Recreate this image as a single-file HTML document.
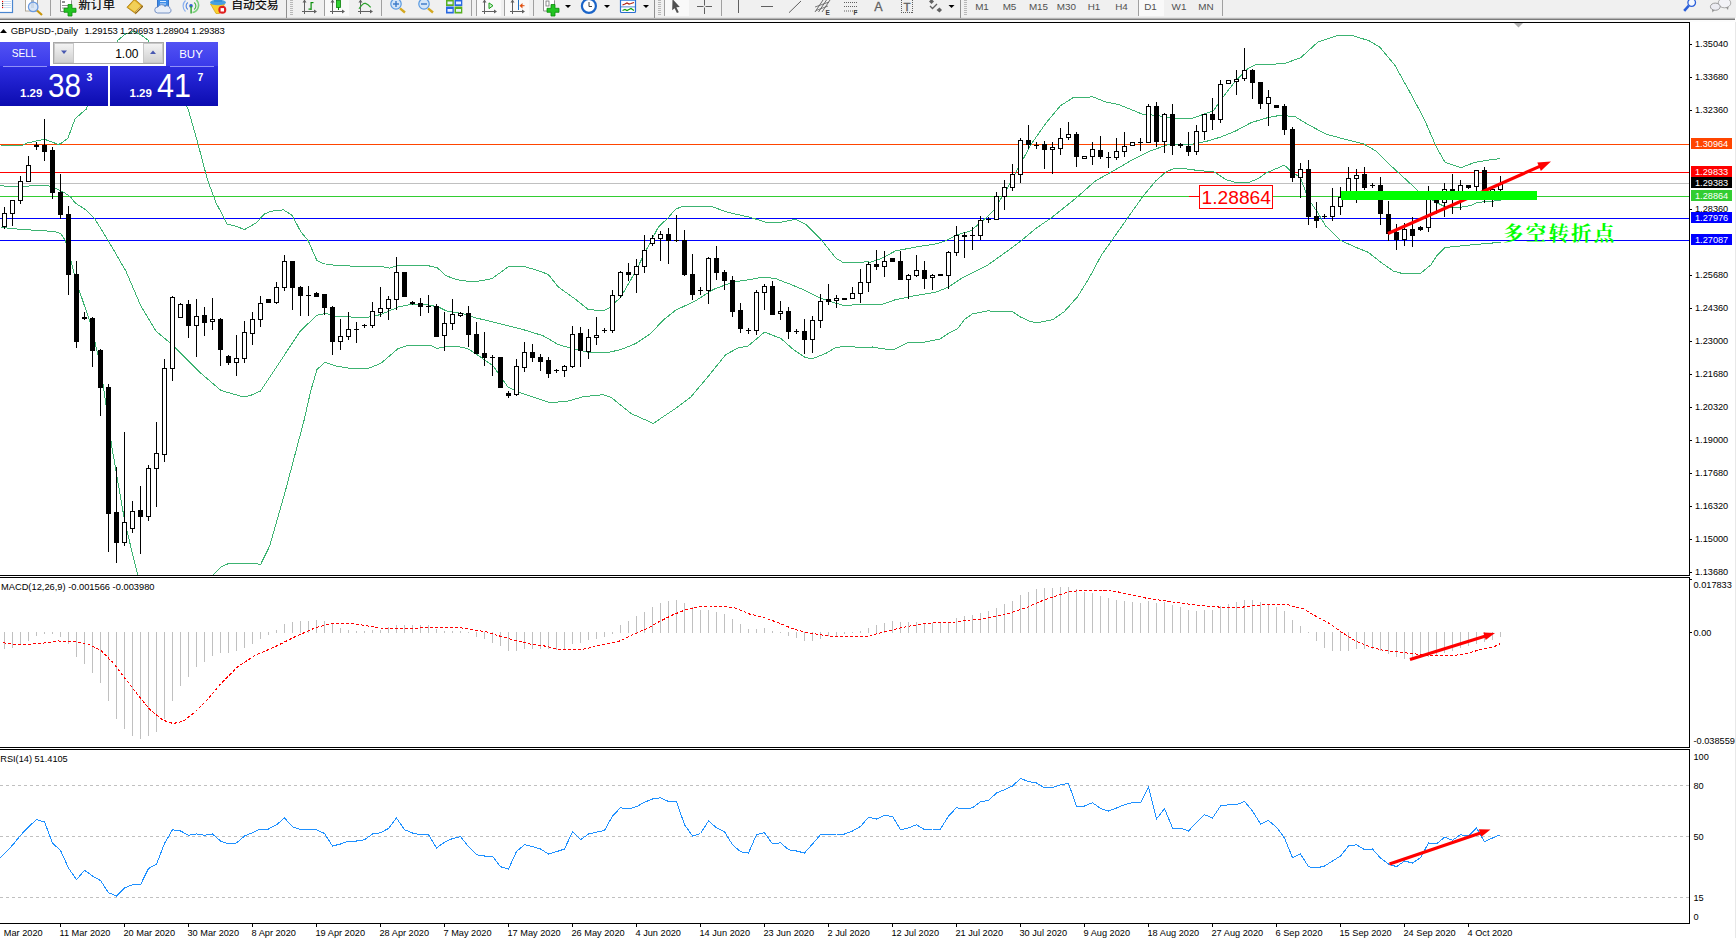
<!DOCTYPE html>
<html><head><meta charset="utf-8"><title>GBPUSD Daily</title>
<style>
html,body{margin:0;padding:0;background:#fff;}
body{width:1736px;height:938px;overflow:hidden;position:relative;}
svg{position:absolute;left:0;top:0;font-family:'Liberation Sans','Noto Sans CJK SC',sans-serif;}
text{white-space:pre;}
</style></head><body>
<svg width="1736" height="938" viewBox="0 0 1736 938">
<defs>
<clipPath id="cpMain"><rect x="0" y="23" width="1689" height="552"/></clipPath>
<linearGradient id="gBtn" x1="0" y1="0" x2="0" y2="1"><stop offset="0" stop-color="#5252F4"/><stop offset="1" stop-color="#3A3AEA"/></linearGradient>
<linearGradient id="gPrice" x1="0" y1="0" x2="0" y2="1"><stop offset="0" stop-color="#2C2CE0"/><stop offset="1" stop-color="#0C0CB0"/></linearGradient>
<linearGradient id="gSpin" x1="0" y1="0" x2="0" y2="1"><stop offset="0" stop-color="#F4F4F4"/><stop offset="1" stop-color="#D0D0D0"/></linearGradient>
<linearGradient id="gTbLine" x1="0" y1="0" x2="0" y2="1"><stop offset="0" stop-color="#D8D8D8"/><stop offset="1" stop-color="#707070"/></linearGradient>
</defs>
<rect x="0" y="0" width="1736" height="938" fill="#fff"/>
<rect x="1735" y="20" width="1" height="918" fill="#E8E8E8"/>
<rect x="0" y="22" width="1690" height="1" fill="#000" />
<rect x="1689" y="22" width="1" height="554" fill="#000" />
<rect x="1689" y="577" width="1" height="171" fill="#000" />
<rect x="1689" y="749" width="1" height="175" fill="#000" />
<rect x="0" y="575" width="1690" height="1" fill="#000" />
<rect x="0" y="577" width="1690" height="1" fill="#000" />
<rect x="0" y="747" width="1690" height="1" fill="#000" />
<rect x="0" y="749" width="1690" height="1" fill="#000" />
<rect x="0" y="923" width="1690" height="1" fill="#000" />
<g shape-rendering="crispEdges">
<rect x="0" y="144" width="1689" height="1" fill="#FF4500" />
<rect x="0" y="172" width="1689" height="1" fill="#FF0000" />
<rect x="0" y="183" width="1689" height="1" fill="#C0C0C0" />
<rect x="0" y="196" width="1689" height="1" fill="#32CD32" />
<rect x="0" y="218" width="1689" height="1" fill="#0000FF" />
<rect x="0" y="240" width="1689" height="1" fill="#0000FF" />
<g clip-path="url(#cpMain)">
<polyline points="0.5,145.5 22.5,145.5 26.5,143.1 44.5,139.3 58.1,144.3 60.5,143.8 67.9,138.2 75.2,118.5 86.2,109.2 100.5,76.5 118.1,40.1 125.5,34.0 134.0,31.5 141.5,35.2 148.0,40.1 165.5,68.5 188.0,108.8 197.8,143.1 207.5,179.9 216.2,203.1 227.2,224.0 237.0,226.5 244.4,229.6 256.5,222.8 264.0,214.2 271.3,211.2 283.5,209.8 292.2,215.4 300.5,231.3 308.1,240.5 316.9,260.5 323.2,263.7 338.2,265.7 383.3,266.9 389.5,268.2 398.4,265.2 425.9,265.2 437.2,267.7 446.0,275.7 456.0,279.5 467.5,281.2 478.1,281.2 491.9,278.7 508.1,266.9 525.7,266.9 538.2,270.7 548.2,274.4 558.3,287.0 575.8,299.5 588.3,309.5 603.4,310.8 609.6,307.8 620.9,297.0 636.0,270.7 646.0,250.5 658.5,226.8 667.5,218.5 675.5,209.3 683.1,206.0 710.7,206.0 725.7,211.8 750.8,217.5 765.8,222.3 780.8,222.3 795.9,219.3 805.9,224.3 820.9,239.4 836.0,258.2 843.5,262.7 867.5,261.9 870.5,262.2 880.5,258.9 895.5,250.9 915.7,247.1 935.7,243.9 945.7,240.9 955.8,235.3 970.8,230.8 983.3,220.3 993.4,210.8 1005.9,190.7 1020.9,163.2 1031.0,144.4 1046.0,123.1 1060.5,105.7 1073.1,97.7 1093.1,96.9 1105.6,101.9 1118.2,104.4 1130.7,109.4 1143.2,114.5 1155.8,115.2 1175.8,118.7 1190.9,118.7 1200.9,115.2 1213.4,110.7 1225.9,93.2 1236.0,80.6 1248.5,68.1 1256.0,64.5 1283.8,63.8 1300.8,57.6 1317.8,42.2 1336.3,36.0 1351.7,35.4 1368.7,40.6 1379.5,46.8 1394.9,65.3 1410.4,93.1 1424.3,119.3 1436.5,147.4 1445.0,162.3 1461.0,167.7 1474.9,162.3 1487.7,160.2 1500.5,158.5" fill="none" stroke="#3CB371" stroke-width="1" />
<polyline points="0.5,185.5 10.5,187.0 32.5,185.8 48.5,185.8 55.9,188.5 64.5,192.7 70.5,197.0 75.5,203.2 85.0,209.3 94.5,218.3 108.3,240.8 125.8,270.9 140.9,306.0 155.9,331.1 170.8,343.5 200.9,373.2 220.9,390.5 243.5,397.0 250.5,395.5 260.5,391.0 275.5,368.5 300.5,330.8 316.9,315.3 325.7,313.3 335.7,316.3 350.8,317.0 365.8,317.8 380.8,314.5 398.4,307.0 410.9,304.5 425.9,304.5 438.5,307.0 446.0,310.8 463.0,313.8 475.5,317.8 500.5,323.8 525.7,330.3 543.2,335.8 558.3,344.6 573.3,348.9 590.9,352.9 605.9,352.9 620.9,349.6 636.0,343.4 651.0,333.3 663.0,320.3 675.5,310.3 695.5,300.8 713.2,289.5 733.2,282.0 750.8,279.5 763.3,277.0 775.8,278.7 790.9,284.5 805.9,290.8 820.9,298.3 836.0,303.3 843.5,305.3 867.5,304.5 880.5,304.8 895.5,299.7 915.7,295.5 935.7,292.2 948.2,287.2 963.3,277.2 988.3,264.7 1005.9,252.1 1020.9,240.9 1036.0,228.3 1050.5,218.5 1075.5,198.5 1095.5,180.9 1113.2,170.9 1130.7,160.8 1150.8,150.8 1168.3,144.5 1190.9,144.5 1205.9,141.5 1220.9,137.0 1236.0,130.8 1251.0,122.7 1265.5,118.2 1280.5,115.2 1295.5,116.9 1308.1,124.5 1325.7,134.0 1345.7,139.5 1363.3,143.8 1375.8,150.8 1390.9,165.8 1405.9,179.5 1420.9,193.5 1437.3,202.9 1445.4,207.0 1460.4,207.2 1470.7,205.5 1476.5,202.9 1485.7,201.5 1500.7,200.6" fill="none" stroke="#3CB371" stroke-width="1" />
<polyline points="0.5,227.0 10.5,228.5 30.5,230.0 54.5,231.5 60.5,233.5 65.5,240.5 76.9,283.5 90.5,323.5 100.5,365.5 111.5,444.8 124.9,522.5 137.8,575.5" fill="none" stroke="#3CB371" stroke-width="1" />
<polyline points="212.8,575.5 221.1,566.9 227.8,563.9 257.1,563.9 260.5,564.7 269.7,546.0 285.5,490.5 304.0,420.5 310.7,391.0 316.9,369.7 324.9,362.2 335.7,365.9 353.3,368.9 368.3,368.4 380.8,363.4 398.4,348.4 408.4,345.4 429.7,345.1 437.2,348.4 446.0,346.6 463.0,347.1 469.3,349.6 478.1,355.4 493.1,365.9 508.1,387.2 518.2,392.2 533.2,397.2 550.8,402.8 568.3,401.0 583.3,396.7 603.4,394.7 610.9,397.2 631.0,413.5 653.5,423.5 660.5,418.5 675.5,408.5 690.5,397.3 705.5,379.7 725.7,354.7 738.2,347.9 748.2,345.9 764.5,332.1 780.8,338.4 793.4,349.6 805.9,357.9 813.4,358.4 825.9,353.4 835.3,347.8 841.8,346.6 853.1,346.6 857.9,347.8 872.5,347.0 883.7,348.9 893.4,349.9 907.9,342.6 922.5,342.6 940.2,338.9 949.9,332.5 957.9,328.4 964.4,319.5 972.5,313.9 988.5,310.7 995.0,311.8 1012.8,311.8 1020.8,317.1 1028.9,321.1 1037.0,322.8 1053.1,319.5 1064.4,311.5 1077.3,297.0 1088.5,279.2 1101.5,255.0 1113.2,238.5 1128.2,217.2 1143.2,195.9 1155.8,180.9 1165.8,172.1 1173.3,168.8 1185.8,168.8 1200.9,170.9 1213.4,171.4 1225.9,179.6 1236.0,182.6 1248.5,182.6 1258.5,178.4 1265.5,173.3 1284.3,165.1 1290.5,170.8 1300.5,177.8 1308.1,198.4 1318.2,213.4 1325.7,226.0 1340.7,240.5 1355.8,247.3 1368.3,252.3 1380.8,262.3 1393.4,271.1 1400.9,273.1 1420.9,273.1 1431.0,264.8 1436.5,256.2 1445.0,247.6 1464.2,245.5 1500.5,242.3" fill="none" stroke="#3CB371" stroke-width="1" />
</g>
<rect x="4" y="207" width="1" height="22" fill="#000" />
<rect x="2" y="213" width="5" height="14" fill="#000" />
<rect x="3" y="214" width="3" height="12" fill="#fff" />
<rect x="12" y="200" width="1" height="26" fill="#000" />
<rect x="10" y="200" width="5" height="14" fill="#000" />
<rect x="11" y="201" width="3" height="12" fill="#fff" />
<rect x="20" y="176" width="1" height="28" fill="#000" />
<rect x="18" y="181" width="5" height="20" fill="#000" />
<rect x="19" y="182" width="3" height="18" fill="#fff" />
<rect x="28" y="156" width="1" height="26" fill="#000" />
<rect x="26" y="165" width="5" height="17" fill="#000" />
<rect x="27" y="166" width="3" height="15" fill="#fff" />
<rect x="36" y="142" width="1" height="8" fill="#000" />
<rect x="34" y="145" width="5" height="2" fill="#000" />
<rect x="44" y="119" width="1" height="42" fill="#000" />
<rect x="42" y="145" width="5" height="7" fill="#000" />
<rect x="52" y="147" width="1" height="52" fill="#000" />
<rect x="50" y="150" width="5" height="43" fill="#000" />
<rect x="60" y="174" width="1" height="45" fill="#000" />
<rect x="58" y="192" width="5" height="23" fill="#000" />
<rect x="68" y="206" width="1" height="89" fill="#000" />
<rect x="66" y="214" width="5" height="61" fill="#000" />
<rect x="76" y="261" width="1" height="87" fill="#000" />
<rect x="74" y="274" width="5" height="68" fill="#000" />
<rect x="84" y="312" width="1" height="8" fill="#000" />
<rect x="82" y="317" width="5" height="2" fill="#000" />
<rect x="92" y="317" width="1" height="50" fill="#000" />
<rect x="90" y="318" width="5" height="33" fill="#000" />
<rect x="100" y="349" width="1" height="67" fill="#000" />
<rect x="98" y="350" width="5" height="38" fill="#000" />
<rect x="108" y="384" width="1" height="168" fill="#000" />
<rect x="106" y="387" width="5" height="127" fill="#000" />
<rect x="116" y="467" width="1" height="96" fill="#000" />
<rect x="114" y="512" width="5" height="31" fill="#000" />
<rect x="124" y="432" width="1" height="114" fill="#000" />
<rect x="122" y="522" width="5" height="21" fill="#000" />
<rect x="123" y="523" width="3" height="19" fill="#fff" />
<rect x="132" y="501" width="1" height="32" fill="#000" />
<rect x="130" y="511" width="5" height="18" fill="#000" />
<rect x="131" y="512" width="3" height="16" fill="#fff" />
<rect x="140" y="486" width="1" height="68" fill="#000" />
<rect x="138" y="510" width="5" height="7" fill="#000" />
<rect x="148" y="465" width="1" height="56" fill="#000" />
<rect x="146" y="468" width="5" height="49" fill="#000" />
<rect x="147" y="469" width="3" height="47" fill="#fff" />
<rect x="156" y="422" width="1" height="85" fill="#000" />
<rect x="154" y="453" width="5" height="16" fill="#000" />
<rect x="155" y="454" width="3" height="14" fill="#fff" />
<rect x="164" y="359" width="1" height="103" fill="#000" />
<rect x="162" y="368" width="5" height="87" fill="#000" />
<rect x="163" y="369" width="3" height="85" fill="#fff" />
<rect x="172" y="296" width="1" height="85" fill="#000" />
<rect x="170" y="297" width="5" height="72" fill="#000" />
<rect x="171" y="298" width="3" height="70" fill="#fff" />
<rect x="180" y="303" width="1" height="15" fill="#000" />
<rect x="178" y="304" width="5" height="14" fill="#000" />
<rect x="179" y="305" width="3" height="12" fill="#fff" />
<rect x="188" y="300" width="1" height="38" fill="#000" />
<rect x="186" y="304" width="5" height="22" fill="#000" />
<rect x="196" y="299" width="1" height="58" fill="#000" />
<rect x="194" y="316" width="5" height="10" fill="#000" />
<rect x="195" y="317" width="3" height="8" fill="#fff" />
<rect x="204" y="307" width="1" height="29" fill="#000" />
<rect x="202" y="315" width="5" height="8" fill="#000" />
<rect x="212" y="298" width="1" height="32" fill="#000" />
<rect x="210" y="319" width="5" height="3" fill="#000" />
<rect x="211" y="320" width="3" height="1" fill="#fff" />
<rect x="220" y="318" width="1" height="48" fill="#000" />
<rect x="218" y="319" width="5" height="31" fill="#000" />
<rect x="228" y="355" width="1" height="10" fill="#000" />
<rect x="226" y="356" width="5" height="7" fill="#000" />
<rect x="236" y="335" width="1" height="41" fill="#000" />
<rect x="234" y="358" width="5" height="5" fill="#000" />
<rect x="235" y="359" width="3" height="3" fill="#fff" />
<rect x="244" y="321" width="1" height="42" fill="#000" />
<rect x="242" y="332" width="5" height="27" fill="#000" />
<rect x="243" y="333" width="3" height="25" fill="#fff" />
<rect x="252" y="312" width="1" height="33" fill="#000" />
<rect x="250" y="319" width="5" height="15" fill="#000" />
<rect x="251" y="320" width="3" height="13" fill="#fff" />
<rect x="260" y="296" width="1" height="31" fill="#000" />
<rect x="258" y="303" width="5" height="17" fill="#000" />
<rect x="259" y="304" width="3" height="15" fill="#fff" />
<rect x="268" y="299" width="1" height="4" fill="#000" />
<rect x="266" y="299" width="5" height="4" fill="#000" />
<rect x="276" y="282" width="1" height="22" fill="#000" />
<rect x="274" y="287" width="5" height="16" fill="#000" />
<rect x="275" y="288" width="3" height="14" fill="#fff" />
<rect x="284" y="255" width="1" height="36" fill="#000" />
<rect x="282" y="261" width="5" height="27" fill="#000" />
<rect x="283" y="262" width="3" height="25" fill="#fff" />
<rect x="292" y="261" width="1" height="49" fill="#000" />
<rect x="290" y="261" width="5" height="27" fill="#000" />
<rect x="300" y="286" width="1" height="30" fill="#000" />
<rect x="298" y="287" width="5" height="9" fill="#000" />
<rect x="308" y="286" width="1" height="30" fill="#000" />
<rect x="306" y="295" width="5" height="1" fill="#000" />
<rect x="316" y="292" width="1" height="5" fill="#000" />
<rect x="314" y="293" width="5" height="4" fill="#000" />
<rect x="324" y="294" width="1" height="21" fill="#000" />
<rect x="322" y="294" width="5" height="14" fill="#000" />
<rect x="332" y="306" width="1" height="49" fill="#000" />
<rect x="330" y="307" width="5" height="35" fill="#000" />
<rect x="340" y="319" width="1" height="31" fill="#000" />
<rect x="338" y="336" width="5" height="6" fill="#000" />
<rect x="339" y="337" width="3" height="4" fill="#fff" />
<rect x="348" y="312" width="1" height="28" fill="#000" />
<rect x="346" y="329" width="5" height="8" fill="#000" />
<rect x="347" y="330" width="3" height="6" fill="#fff" />
<rect x="356" y="322" width="1" height="21" fill="#000" />
<rect x="354" y="329" width="5" height="1" fill="#000" />
<rect x="364" y="324" width="1" height="4" fill="#000" />
<rect x="362" y="325" width="5" height="1" fill="#000" />
<rect x="372" y="302" width="1" height="26" fill="#000" />
<rect x="370" y="311" width="5" height="15" fill="#000" />
<rect x="371" y="312" width="3" height="13" fill="#fff" />
<rect x="380" y="287" width="1" height="30" fill="#000" />
<rect x="378" y="308" width="5" height="5" fill="#000" />
<rect x="379" y="309" width="3" height="3" fill="#fff" />
<rect x="388" y="296" width="1" height="24" fill="#000" />
<rect x="386" y="299" width="5" height="10" fill="#000" />
<rect x="387" y="300" width="3" height="8" fill="#fff" />
<rect x="396" y="257" width="1" height="53" fill="#000" />
<rect x="394" y="272" width="5" height="28" fill="#000" />
<rect x="395" y="273" width="3" height="26" fill="#fff" />
<rect x="404" y="272" width="1" height="25" fill="#000" />
<rect x="402" y="272" width="5" height="25" fill="#000" />
<rect x="412" y="301" width="1" height="4" fill="#000" />
<rect x="410" y="302" width="5" height="2" fill="#000" />
<rect x="420" y="298" width="1" height="18" fill="#000" />
<rect x="418" y="303" width="5" height="4" fill="#000" />
<rect x="428" y="295" width="1" height="18" fill="#000" />
<rect x="426" y="306" width="5" height="1" fill="#000" />
<rect x="436" y="304" width="1" height="33" fill="#000" />
<rect x="434" y="306" width="5" height="31" fill="#000" />
<rect x="444" y="312" width="1" height="39" fill="#000" />
<rect x="442" y="323" width="5" height="13" fill="#000" />
<rect x="443" y="324" width="3" height="11" fill="#fff" />
<rect x="452" y="299" width="1" height="31" fill="#000" />
<rect x="450" y="314" width="5" height="10" fill="#000" />
<rect x="451" y="315" width="3" height="8" fill="#fff" />
<rect x="460" y="312" width="1" height="5" fill="#000" />
<rect x="458" y="313" width="5" height="3" fill="#000" />
<rect x="459" y="314" width="3" height="1" fill="#fff" />
<rect x="468" y="306" width="1" height="41" fill="#000" />
<rect x="466" y="313" width="5" height="22" fill="#000" />
<rect x="476" y="322" width="1" height="32" fill="#000" />
<rect x="474" y="334" width="5" height="20" fill="#000" />
<rect x="484" y="332" width="1" height="34" fill="#000" />
<rect x="482" y="353" width="5" height="5" fill="#000" />
<rect x="492" y="355" width="1" height="21" fill="#000" />
<rect x="490" y="357" width="5" height="1" fill="#000" />
<rect x="500" y="357" width="1" height="31" fill="#000" />
<rect x="498" y="357" width="5" height="31" fill="#000" />
<rect x="508" y="391" width="1" height="7" fill="#000" />
<rect x="506" y="393" width="5" height="3" fill="#000" />
<rect x="516" y="359" width="1" height="37" fill="#000" />
<rect x="514" y="366" width="5" height="29" fill="#000" />
<rect x="515" y="367" width="3" height="27" fill="#fff" />
<rect x="524" y="342" width="1" height="30" fill="#000" />
<rect x="522" y="352" width="5" height="16" fill="#000" />
<rect x="523" y="353" width="3" height="14" fill="#fff" />
<rect x="532" y="344" width="1" height="18" fill="#000" />
<rect x="530" y="352" width="5" height="6" fill="#000" />
<rect x="540" y="354" width="1" height="17" fill="#000" />
<rect x="538" y="357" width="5" height="5" fill="#000" />
<rect x="548" y="357" width="1" height="21" fill="#000" />
<rect x="546" y="360" width="5" height="14" fill="#000" />
<rect x="556" y="369" width="1" height="4" fill="#000" />
<rect x="554" y="370" width="5" height="1" fill="#000" />
<rect x="564" y="365" width="1" height="12" fill="#000" />
<rect x="562" y="366" width="5" height="5" fill="#000" />
<rect x="563" y="367" width="3" height="3" fill="#fff" />
<rect x="572" y="326" width="1" height="42" fill="#000" />
<rect x="570" y="334" width="5" height="33" fill="#000" />
<rect x="571" y="335" width="3" height="31" fill="#fff" />
<rect x="580" y="327" width="1" height="40" fill="#000" />
<rect x="578" y="333" width="5" height="18" fill="#000" />
<rect x="588" y="329" width="1" height="30" fill="#000" />
<rect x="586" y="337" width="5" height="15" fill="#000" />
<rect x="587" y="338" width="3" height="13" fill="#fff" />
<rect x="596" y="317" width="1" height="28" fill="#000" />
<rect x="594" y="335" width="5" height="3" fill="#000" />
<rect x="595" y="336" width="3" height="1" fill="#fff" />
<rect x="604" y="328" width="1" height="5" fill="#000" />
<rect x="602" y="330" width="5" height="1" fill="#000" />
<rect x="612" y="290" width="1" height="43" fill="#000" />
<rect x="610" y="295" width="5" height="36" fill="#000" />
<rect x="611" y="296" width="3" height="34" fill="#fff" />
<rect x="620" y="271" width="1" height="27" fill="#000" />
<rect x="618" y="272" width="5" height="24" fill="#000" />
<rect x="619" y="273" width="3" height="22" fill="#fff" />
<rect x="628" y="263" width="1" height="18" fill="#000" />
<rect x="626" y="272" width="5" height="3" fill="#000" />
<rect x="636" y="259" width="1" height="34" fill="#000" />
<rect x="634" y="266" width="5" height="9" fill="#000" />
<rect x="635" y="267" width="3" height="7" fill="#fff" />
<rect x="644" y="235" width="1" height="38" fill="#000" />
<rect x="642" y="250" width="5" height="17" fill="#000" />
<rect x="643" y="251" width="3" height="15" fill="#fff" />
<rect x="652" y="235" width="1" height="11" fill="#000" />
<rect x="650" y="238" width="5" height="6" fill="#000" />
<rect x="651" y="239" width="3" height="4" fill="#fff" />
<rect x="660" y="231" width="1" height="30" fill="#000" />
<rect x="658" y="234" width="5" height="5" fill="#000" />
<rect x="659" y="235" width="3" height="3" fill="#fff" />
<rect x="668" y="228" width="1" height="36" fill="#000" />
<rect x="666" y="234" width="5" height="7" fill="#000" />
<rect x="676" y="215" width="1" height="27" fill="#000" />
<rect x="674" y="240" width="5" height="1" fill="#000" />
<rect x="684" y="230" width="1" height="46" fill="#000" />
<rect x="682" y="240" width="5" height="35" fill="#000" />
<rect x="692" y="254" width="1" height="46" fill="#000" />
<rect x="690" y="274" width="5" height="21" fill="#000" />
<rect x="700" y="287" width="1" height="8" fill="#000" />
<rect x="698" y="290" width="5" height="1" fill="#000" />
<rect x="708" y="257" width="1" height="47" fill="#000" />
<rect x="706" y="258" width="5" height="33" fill="#000" />
<rect x="707" y="259" width="3" height="31" fill="#fff" />
<rect x="716" y="246" width="1" height="34" fill="#000" />
<rect x="714" y="258" width="5" height="15" fill="#000" />
<rect x="724" y="270" width="1" height="20" fill="#000" />
<rect x="722" y="272" width="5" height="9" fill="#000" />
<rect x="732" y="276" width="1" height="41" fill="#000" />
<rect x="730" y="280" width="5" height="32" fill="#000" />
<rect x="740" y="303" width="1" height="30" fill="#000" />
<rect x="738" y="310" width="5" height="19" fill="#000" />
<rect x="748" y="328" width="1" height="6" fill="#000" />
<rect x="746" y="330" width="5" height="1" fill="#000" />
<rect x="756" y="290" width="1" height="45" fill="#000" />
<rect x="754" y="292" width="5" height="39" fill="#000" />
<rect x="755" y="293" width="3" height="37" fill="#fff" />
<rect x="764" y="284" width="1" height="26" fill="#000" />
<rect x="762" y="286" width="5" height="7" fill="#000" />
<rect x="763" y="287" width="3" height="5" fill="#fff" />
<rect x="772" y="281" width="1" height="34" fill="#000" />
<rect x="770" y="286" width="5" height="29" fill="#000" />
<rect x="780" y="301" width="1" height="19" fill="#000" />
<rect x="778" y="311" width="5" height="3" fill="#000" />
<rect x="779" y="312" width="3" height="1" fill="#fff" />
<rect x="788" y="307" width="1" height="32" fill="#000" />
<rect x="786" y="311" width="5" height="21" fill="#000" />
<rect x="796" y="329" width="1" height="5" fill="#000" />
<rect x="794" y="331" width="5" height="1" fill="#000" />
<rect x="804" y="319" width="1" height="35" fill="#000" />
<rect x="802" y="331" width="5" height="9" fill="#000" />
<rect x="812" y="316" width="1" height="37" fill="#000" />
<rect x="810" y="320" width="5" height="20" fill="#000" />
<rect x="811" y="321" width="3" height="18" fill="#fff" />
<rect x="820" y="294" width="1" height="34" fill="#000" />
<rect x="818" y="301" width="5" height="20" fill="#000" />
<rect x="819" y="302" width="3" height="18" fill="#fff" />
<rect x="828" y="284" width="1" height="21" fill="#000" />
<rect x="826" y="299" width="5" height="3" fill="#000" />
<rect x="836" y="295" width="1" height="13" fill="#000" />
<rect x="834" y="298" width="5" height="3" fill="#000" />
<rect x="835" y="299" width="3" height="1" fill="#fff" />
<rect x="844" y="298" width="1" height="2" fill="#000" />
<rect x="842" y="298" width="5" height="2" fill="#000" />
<rect x="852" y="287" width="1" height="12" fill="#000" />
<rect x="850" y="293" width="5" height="6" fill="#000" />
<rect x="851" y="294" width="3" height="4" fill="#fff" />
<rect x="860" y="269" width="1" height="34" fill="#000" />
<rect x="858" y="282" width="5" height="12" fill="#000" />
<rect x="859" y="283" width="3" height="10" fill="#fff" />
<rect x="868" y="262" width="1" height="30" fill="#000" />
<rect x="866" y="264" width="5" height="19" fill="#000" />
<rect x="867" y="265" width="3" height="17" fill="#fff" />
<rect x="876" y="250" width="1" height="20" fill="#000" />
<rect x="874" y="264" width="5" height="3" fill="#000" />
<rect x="884" y="251" width="1" height="26" fill="#000" />
<rect x="882" y="261" width="5" height="6" fill="#000" />
<rect x="883" y="262" width="3" height="4" fill="#fff" />
<rect x="892" y="258" width="1" height="4" fill="#000" />
<rect x="890" y="258" width="5" height="4" fill="#000" />
<rect x="900" y="251" width="1" height="29" fill="#000" />
<rect x="898" y="261" width="5" height="19" fill="#000" />
<rect x="908" y="274" width="1" height="25" fill="#000" />
<rect x="906" y="275" width="5" height="5" fill="#000" />
<rect x="907" y="276" width="3" height="3" fill="#fff" />
<rect x="916" y="255" width="1" height="22" fill="#000" />
<rect x="914" y="270" width="5" height="6" fill="#000" />
<rect x="915" y="271" width="3" height="4" fill="#fff" />
<rect x="924" y="261" width="1" height="28" fill="#000" />
<rect x="922" y="270" width="5" height="9" fill="#000" />
<rect x="932" y="274" width="1" height="16" fill="#000" />
<rect x="930" y="275" width="5" height="3" fill="#000" />
<rect x="931" y="276" width="3" height="1" fill="#fff" />
<rect x="940" y="274" width="1" height="2" fill="#000" />
<rect x="938" y="274" width="5" height="2" fill="#000" />
<rect x="948" y="251" width="1" height="38" fill="#000" />
<rect x="946" y="252" width="5" height="24" fill="#000" />
<rect x="947" y="253" width="3" height="22" fill="#fff" />
<rect x="956" y="226" width="1" height="30" fill="#000" />
<rect x="954" y="235" width="5" height="18" fill="#000" />
<rect x="955" y="236" width="3" height="16" fill="#fff" />
<rect x="964" y="232" width="1" height="26" fill="#000" />
<rect x="962" y="235" width="5" height="2" fill="#000" />
<rect x="972" y="227" width="1" height="23" fill="#000" />
<rect x="970" y="235" width="5" height="1" fill="#000" />
<rect x="980" y="216" width="1" height="24" fill="#000" />
<rect x="978" y="220" width="5" height="16" fill="#000" />
<rect x="979" y="221" width="3" height="14" fill="#fff" />
<rect x="988" y="217" width="1" height="6" fill="#000" />
<rect x="986" y="219" width="5" height="1" fill="#000" />
<rect x="996" y="192" width="1" height="28" fill="#000" />
<rect x="994" y="196" width="5" height="24" fill="#000" />
<rect x="995" y="197" width="3" height="22" fill="#fff" />
<rect x="1004" y="180" width="1" height="30" fill="#000" />
<rect x="1002" y="187" width="5" height="10" fill="#000" />
<rect x="1003" y="188" width="3" height="8" fill="#fff" />
<rect x="1012" y="164" width="1" height="27" fill="#000" />
<rect x="1010" y="174" width="5" height="14" fill="#000" />
<rect x="1011" y="175" width="3" height="12" fill="#fff" />
<rect x="1020" y="138" width="1" height="45" fill="#000" />
<rect x="1018" y="140" width="5" height="35" fill="#000" />
<rect x="1019" y="141" width="3" height="33" fill="#fff" />
<rect x="1028" y="125" width="1" height="24" fill="#000" />
<rect x="1026" y="140" width="5" height="5" fill="#000" />
<rect x="1036" y="142" width="1" height="7" fill="#000" />
<rect x="1034" y="145" width="5" height="1" fill="#000" />
<rect x="1044" y="141" width="1" height="28" fill="#000" />
<rect x="1042" y="144" width="5" height="6" fill="#000" />
<rect x="1052" y="142" width="1" height="32" fill="#000" />
<rect x="1050" y="147" width="5" height="3" fill="#000" />
<rect x="1051" y="148" width="3" height="1" fill="#fff" />
<rect x="1060" y="128" width="1" height="27" fill="#000" />
<rect x="1058" y="138" width="5" height="11" fill="#000" />
<rect x="1059" y="139" width="3" height="9" fill="#fff" />
<rect x="1068" y="122" width="1" height="18" fill="#000" />
<rect x="1066" y="134" width="5" height="4" fill="#000" />
<rect x="1067" y="135" width="3" height="2" fill="#fff" />
<rect x="1076" y="132" width="1" height="35" fill="#000" />
<rect x="1074" y="134" width="5" height="23" fill="#000" />
<rect x="1084" y="156" width="1" height="3" fill="#000" />
<rect x="1082" y="156" width="5" height="3" fill="#000" />
<rect x="1083" y="157" width="3" height="1" fill="#fff" />
<rect x="1092" y="142" width="1" height="23" fill="#000" />
<rect x="1090" y="149" width="5" height="8" fill="#000" />
<rect x="1091" y="150" width="3" height="6" fill="#fff" />
<rect x="1100" y="136" width="1" height="23" fill="#000" />
<rect x="1098" y="150" width="5" height="7" fill="#000" />
<rect x="1108" y="152" width="1" height="16" fill="#000" />
<rect x="1106" y="157" width="5" height="1" fill="#000" />
<rect x="1116" y="138" width="1" height="22" fill="#000" />
<rect x="1114" y="151" width="5" height="7" fill="#000" />
<rect x="1115" y="152" width="3" height="5" fill="#fff" />
<rect x="1124" y="132" width="1" height="25" fill="#000" />
<rect x="1122" y="146" width="5" height="6" fill="#000" />
<rect x="1123" y="147" width="3" height="4" fill="#fff" />
<rect x="1132" y="142" width="1" height="4" fill="#000" />
<rect x="1130" y="142" width="5" height="4" fill="#000" />
<rect x="1131" y="143" width="3" height="2" fill="#fff" />
<rect x="1140" y="138" width="1" height="13" fill="#000" />
<rect x="1138" y="142" width="5" height="1" fill="#000" />
<rect x="1148" y="104" width="1" height="39" fill="#000" />
<rect x="1146" y="106" width="5" height="37" fill="#000" />
<rect x="1147" y="107" width="3" height="35" fill="#fff" />
<rect x="1156" y="102" width="1" height="45" fill="#000" />
<rect x="1154" y="106" width="5" height="36" fill="#000" />
<rect x="1164" y="113" width="1" height="40" fill="#000" />
<rect x="1162" y="114" width="5" height="28" fill="#000" />
<rect x="1163" y="115" width="3" height="26" fill="#fff" />
<rect x="1172" y="104" width="1" height="51" fill="#000" />
<rect x="1170" y="114" width="5" height="32" fill="#000" />
<rect x="1180" y="143" width="1" height="5" fill="#000" />
<rect x="1178" y="144" width="5" height="2" fill="#000" />
<rect x="1188" y="132" width="1" height="24" fill="#000" />
<rect x="1186" y="146" width="5" height="6" fill="#000" />
<rect x="1196" y="125" width="1" height="30" fill="#000" />
<rect x="1194" y="131" width="5" height="21" fill="#000" />
<rect x="1195" y="132" width="3" height="19" fill="#fff" />
<rect x="1204" y="114" width="1" height="26" fill="#000" />
<rect x="1202" y="114" width="5" height="18" fill="#000" />
<rect x="1203" y="115" width="3" height="16" fill="#fff" />
<rect x="1212" y="98" width="1" height="32" fill="#000" />
<rect x="1210" y="114" width="5" height="6" fill="#000" />
<rect x="1220" y="80" width="1" height="43" fill="#000" />
<rect x="1218" y="84" width="5" height="36" fill="#000" />
<rect x="1219" y="85" width="3" height="34" fill="#fff" />
<rect x="1228" y="80" width="1" height="4" fill="#000" />
<rect x="1226" y="80" width="5" height="4" fill="#000" />
<rect x="1227" y="81" width="3" height="2" fill="#fff" />
<rect x="1236" y="70" width="1" height="25" fill="#000" />
<rect x="1234" y="79" width="5" height="3" fill="#000" />
<rect x="1235" y="80" width="3" height="1" fill="#fff" />
<rect x="1244" y="48" width="1" height="33" fill="#000" />
<rect x="1242" y="70" width="5" height="9" fill="#000" />
<rect x="1243" y="71" width="3" height="7" fill="#fff" />
<rect x="1252" y="69" width="1" height="30" fill="#000" />
<rect x="1250" y="70" width="5" height="13" fill="#000" />
<rect x="1260" y="82" width="1" height="27" fill="#000" />
<rect x="1258" y="82" width="5" height="22" fill="#000" />
<rect x="1268" y="90" width="1" height="36" fill="#000" />
<rect x="1266" y="97" width="5" height="7" fill="#000" />
<rect x="1267" y="98" width="3" height="5" fill="#fff" />
<rect x="1276" y="105" width="1" height="3" fill="#000" />
<rect x="1274" y="105" width="5" height="3" fill="#000" />
<rect x="1284" y="104" width="1" height="31" fill="#000" />
<rect x="1282" y="106" width="5" height="24" fill="#000" />
<rect x="1292" y="127" width="1" height="55" fill="#000" />
<rect x="1290" y="129" width="5" height="49" fill="#000" />
<rect x="1300" y="163" width="1" height="35" fill="#000" />
<rect x="1298" y="169" width="5" height="9" fill="#000" />
<rect x="1299" y="170" width="3" height="7" fill="#fff" />
<rect x="1308" y="160" width="1" height="65" fill="#000" />
<rect x="1306" y="169" width="5" height="48" fill="#000" />
<rect x="1316" y="202" width="1" height="26" fill="#000" />
<rect x="1314" y="216" width="5" height="5" fill="#000" />
<rect x="1324" y="214" width="1" height="5" fill="#000" />
<rect x="1322" y="216" width="5" height="1" fill="#000" />
<rect x="1332" y="188" width="1" height="33" fill="#000" />
<rect x="1330" y="206" width="5" height="11" fill="#000" />
<rect x="1331" y="207" width="3" height="9" fill="#fff" />
<rect x="1340" y="187" width="1" height="28" fill="#000" />
<rect x="1338" y="197" width="5" height="10" fill="#000" />
<rect x="1339" y="198" width="3" height="8" fill="#fff" />
<rect x="1348" y="167" width="1" height="31" fill="#000" />
<rect x="1346" y="178" width="5" height="20" fill="#000" />
<rect x="1347" y="179" width="3" height="18" fill="#fff" />
<rect x="1356" y="169" width="1" height="34" fill="#000" />
<rect x="1354" y="175" width="5" height="4" fill="#000" />
<rect x="1355" y="176" width="3" height="2" fill="#fff" />
<rect x="1364" y="167" width="1" height="23" fill="#000" />
<rect x="1362" y="174" width="5" height="14" fill="#000" />
<rect x="1372" y="183" width="1" height="5" fill="#000" />
<rect x="1370" y="185" width="5" height="1" fill="#000" />
<rect x="1380" y="177" width="1" height="48" fill="#000" />
<rect x="1378" y="185" width="5" height="29" fill="#000" />
<rect x="1388" y="201" width="1" height="40" fill="#000" />
<rect x="1386" y="214" width="5" height="20" fill="#000" />
<rect x="1396" y="224" width="1" height="26" fill="#000" />
<rect x="1394" y="232" width="5" height="8" fill="#000" />
<rect x="1404" y="223" width="1" height="23" fill="#000" />
<rect x="1402" y="229" width="5" height="11" fill="#000" />
<rect x="1403" y="230" width="3" height="9" fill="#fff" />
<rect x="1412" y="217" width="1" height="30" fill="#000" />
<rect x="1410" y="229" width="5" height="7" fill="#000" />
<rect x="1420" y="226" width="1" height="5" fill="#000" />
<rect x="1418" y="227" width="5" height="3" fill="#000" />
<rect x="1428" y="186" width="1" height="46" fill="#000" />
<rect x="1426" y="199" width="5" height="29" fill="#000" />
<rect x="1427" y="200" width="3" height="27" fill="#fff" />
<rect x="1436" y="195" width="1" height="19" fill="#000" />
<rect x="1434" y="198" width="5" height="5" fill="#000" />
<rect x="1444" y="183" width="1" height="34" fill="#000" />
<rect x="1442" y="189" width="5" height="14" fill="#000" />
<rect x="1443" y="190" width="3" height="12" fill="#fff" />
<rect x="1452" y="174" width="1" height="40" fill="#000" />
<rect x="1450" y="189" width="5" height="5" fill="#000" />
<rect x="1460" y="180" width="1" height="30" fill="#000" />
<rect x="1458" y="185" width="5" height="9" fill="#000" />
<rect x="1459" y="186" width="3" height="7" fill="#fff" />
<rect x="1468" y="185" width="1" height="4" fill="#000" />
<rect x="1466" y="185" width="5" height="3" fill="#000" />
<rect x="1476" y="170" width="1" height="24" fill="#000" />
<rect x="1474" y="170" width="5" height="17" fill="#000" />
<rect x="1475" y="171" width="3" height="15" fill="#fff" />
<rect x="1484" y="167" width="1" height="36" fill="#000" />
<rect x="1482" y="170" width="5" height="23" fill="#000" />
<rect x="1492" y="189" width="1" height="18" fill="#000" />
<rect x="1490" y="189" width="5" height="7" fill="#000" />
<rect x="1491" y="190" width="3" height="5" fill="#fff" />
<rect x="1500" y="176" width="1" height="21" fill="#000" />
<rect x="1498" y="183" width="5" height="7" fill="#000" />
<rect x="1499" y="184" width="3" height="5" fill="#fff" />
</g>
<line x1="1388" y1="233.5" x2="1540.9" y2="165.9" stroke="#FF0000" stroke-width="3.2"/>
<polygon points="1551,161.5 1540.9,170.9 1537.3,162.6" fill="#FF0000"/>
<rect x="1341" y="191" width="196" height="9" fill="#00FF00" />
<rect x="1189" y="196" width="10" height="1" fill="#FF0000" />
<rect x="1199.5" y="185.5" width="73" height="23" fill="#fff" stroke="#FF0000" stroke-width="1"/>
<text x="1201.6" y="204.3" font-size="19.2" fill="#FF0000" text-anchor="start" >1.28864</text>
<text x="1503" y="241" font-size="20.5" fill="#00FF00" text-anchor="start" font-family="'Liberation Serif','Noto Serif CJK SC',serif" letter-spacing="2.2" font-weight="bold">多空转折点</text>
<rect x="1690" y="44" width="2" height="1" fill="#000" />
<text x="1695" y="47.2" font-size="9.2" fill="#000" text-anchor="start" >1.35040</text>
<rect x="1690" y="77" width="2" height="1" fill="#000" />
<text x="1695" y="80.2" font-size="9.2" fill="#000" text-anchor="start" >1.33680</text>
<rect x="1690" y="110" width="2" height="1" fill="#000" />
<text x="1695" y="113.2" font-size="9.2" fill="#000" text-anchor="start" >1.32360</text>
<rect x="1690" y="209" width="2" height="1" fill="#000" />
<text x="1695" y="212.2" font-size="9.2" fill="#000" text-anchor="start" >1.28360</text>
<rect x="1690" y="275" width="2" height="1" fill="#000" />
<text x="1695" y="278.2" font-size="9.2" fill="#000" text-anchor="start" >1.25680</text>
<rect x="1690" y="308" width="2" height="1" fill="#000" />
<text x="1695" y="311.2" font-size="9.2" fill="#000" text-anchor="start" >1.24360</text>
<rect x="1690" y="341" width="2" height="1" fill="#000" />
<text x="1695" y="344.2" font-size="9.2" fill="#000" text-anchor="start" >1.23000</text>
<rect x="1690" y="374" width="2" height="1" fill="#000" />
<text x="1695" y="377.2" font-size="9.2" fill="#000" text-anchor="start" >1.21680</text>
<rect x="1690" y="407" width="2" height="1" fill="#000" />
<text x="1695" y="410.2" font-size="9.2" fill="#000" text-anchor="start" >1.20320</text>
<rect x="1690" y="440" width="2" height="1" fill="#000" />
<text x="1695" y="443.2" font-size="9.2" fill="#000" text-anchor="start" >1.19000</text>
<rect x="1690" y="473" width="2" height="1" fill="#000" />
<text x="1695" y="476.2" font-size="9.2" fill="#000" text-anchor="start" >1.17680</text>
<rect x="1690" y="506" width="2" height="1" fill="#000" />
<text x="1695" y="509.2" font-size="9.2" fill="#000" text-anchor="start" >1.16320</text>
<rect x="1690" y="539" width="2" height="1" fill="#000" />
<text x="1695" y="542.2" font-size="9.2" fill="#000" text-anchor="start" >1.15000</text>
<rect x="1690" y="572" width="2" height="1" fill="#000" />
<text x="1695" y="575.2" font-size="9.2" fill="#000" text-anchor="start" >1.13680</text>
<rect x="1691" y="138" width="41" height="11" fill="#FF4500" />
<text x="1695" y="147" font-size="9.2" fill="#fff" text-anchor="start" >1.30964</text>
<rect x="1691" y="166" width="41" height="11" fill="#FF0000" />
<text x="1695" y="175" font-size="9.2" fill="#fff" text-anchor="start" >1.29833</text>
<rect x="1691" y="177" width="41" height="11" fill="#000000" />
<text x="1695" y="186" font-size="9.2" fill="#fff" text-anchor="start" >1.29383</text>
<rect x="1691" y="190" width="41" height="11" fill="#32CD32" />
<text x="1695" y="199" font-size="9.2" fill="#fff" text-anchor="start" >1.28864</text>
<rect x="1691" y="212" width="41" height="11" fill="#0000FF" />
<text x="1695" y="221" font-size="9.2" fill="#fff" text-anchor="start" >1.27976</text>
<rect x="1691" y="234" width="41" height="11" fill="#0000FF" />
<text x="1695" y="243" font-size="9.2" fill="#fff" text-anchor="start" >1.27087</text>
<text x="1693.5" y="587.8" font-size="9.2" fill="#000" text-anchor="start" >0.017833</text>
<text x="1693.5" y="636.0999999999999" font-size="9.2" fill="#000" text-anchor="start" >0.00</text>
<text x="1693.5" y="743.6999999999999" font-size="9.2" fill="#000" text-anchor="start" >-0.038559</text>
<rect x="1690" y="579" width="2" height="1" fill="#000" />
<rect x="1690" y="632" width="2" height="1" fill="#000" />
<text x="1693.5" y="759.9" font-size="9.2" fill="#000" text-anchor="start" >100</text>
<text x="1693.5" y="788.8" font-size="9.2" fill="#000" text-anchor="start" >80</text>
<text x="1693.5" y="839.5999999999999" font-size="9.2" fill="#000" text-anchor="start" >50</text>
<text x="1693.5" y="900.5999999999999" font-size="9.2" fill="#000" text-anchor="start" >15</text>
<text x="1693.5" y="920.1999999999999" font-size="9.2" fill="#000" text-anchor="start" >0</text>
<g shape-rendering="crispEdges">
<rect x="4" y="632" width="1" height="17" fill="#C0C0C0" />
<rect x="12" y="632" width="1" height="16" fill="#C0C0C0" />
<rect x="20" y="632" width="1" height="13" fill="#C0C0C0" />
<rect x="28" y="632" width="1" height="9" fill="#C0C0C0" />
<rect x="36" y="632" width="1" height="4" fill="#C0C0C0" />
<rect x="44" y="632" width="1" height="2" fill="#C0C0C0" />
<rect x="52" y="632" width="1" height="2" fill="#C0C0C0" />
<rect x="60" y="632" width="1" height="5" fill="#C0C0C0" />
<rect x="68" y="632" width="1" height="12" fill="#C0C0C0" />
<rect x="76" y="632" width="1" height="25" fill="#C0C0C0" />
<rect x="84" y="632" width="1" height="32" fill="#C0C0C0" />
<rect x="92" y="632" width="1" height="41" fill="#C0C0C0" />
<rect x="100" y="632" width="1" height="51" fill="#C0C0C0" />
<rect x="108" y="632" width="1" height="69" fill="#C0C0C0" />
<rect x="116" y="632" width="1" height="87" fill="#C0C0C0" />
<rect x="124" y="632" width="1" height="97" fill="#C0C0C0" />
<rect x="132" y="632" width="1" height="104" fill="#C0C0C0" />
<rect x="140" y="632" width="1" height="107" fill="#C0C0C0" />
<rect x="148" y="632" width="1" height="104" fill="#C0C0C0" />
<rect x="156" y="632" width="1" height="100" fill="#C0C0C0" />
<rect x="164" y="632" width="1" height="87" fill="#C0C0C0" />
<rect x="172" y="632" width="1" height="69" fill="#C0C0C0" />
<rect x="180" y="632" width="1" height="54" fill="#C0C0C0" />
<rect x="188" y="632" width="1" height="45" fill="#C0C0C0" />
<rect x="196" y="632" width="1" height="35" fill="#C0C0C0" />
<rect x="204" y="632" width="1" height="30" fill="#C0C0C0" />
<rect x="212" y="632" width="1" height="24" fill="#C0C0C0" />
<rect x="220" y="632" width="1" height="21" fill="#C0C0C0" />
<rect x="228" y="632" width="1" height="21" fill="#C0C0C0" />
<rect x="236" y="632" width="1" height="19" fill="#C0C0C0" />
<rect x="244" y="632" width="1" height="16" fill="#C0C0C0" />
<rect x="252" y="632" width="1" height="12" fill="#C0C0C0" />
<rect x="260" y="632" width="1" height="7" fill="#C0C0C0" />
<rect x="268" y="632" width="1" height="3" fill="#C0C0C0" />
<rect x="276" y="630" width="1" height="3" fill="#C0C0C0" />
<rect x="284" y="624" width="1" height="9" fill="#C0C0C0" />
<rect x="292" y="622" width="1" height="11" fill="#C0C0C0" />
<rect x="300" y="621" width="1" height="12" fill="#C0C0C0" />
<rect x="308" y="621" width="1" height="12" fill="#C0C0C0" />
<rect x="316" y="620" width="1" height="13" fill="#C0C0C0" />
<rect x="324" y="621" width="1" height="12" fill="#C0C0C0" />
<rect x="332" y="624" width="1" height="9" fill="#C0C0C0" />
<rect x="340" y="628" width="1" height="5" fill="#C0C0C0" />
<rect x="348" y="630" width="1" height="3" fill="#C0C0C0" />
<rect x="356" y="631" width="1" height="2" fill="#C0C0C0" />
<rect x="364" y="631" width="1" height="2" fill="#C0C0C0" />
<rect x="372" y="630" width="1" height="3" fill="#C0C0C0" />
<rect x="380" y="630" width="1" height="3" fill="#C0C0C0" />
<rect x="388" y="627" width="1" height="6" fill="#C0C0C0" />
<rect x="396" y="625" width="1" height="8" fill="#C0C0C0" />
<rect x="404" y="625" width="1" height="8" fill="#C0C0C0" />
<rect x="412" y="625" width="1" height="8" fill="#C0C0C0" />
<rect x="420" y="625" width="1" height="8" fill="#C0C0C0" />
<rect x="428" y="625" width="1" height="8" fill="#C0C0C0" />
<rect x="436" y="629" width="1" height="4" fill="#C0C0C0" />
<rect x="444" y="631" width="1" height="2" fill="#C0C0C0" />
<rect x="452" y="631" width="1" height="2" fill="#C0C0C0" />
<rect x="460" y="631" width="1" height="2" fill="#C0C0C0" />
<rect x="468" y="632" width="1" height="1" fill="#C0C0C0" />
<rect x="476" y="632" width="1" height="5" fill="#C0C0C0" />
<rect x="484" y="632" width="1" height="7" fill="#C0C0C0" />
<rect x="492" y="632" width="1" height="11" fill="#C0C0C0" />
<rect x="500" y="632" width="1" height="14" fill="#C0C0C0" />
<rect x="508" y="632" width="1" height="19" fill="#C0C0C0" />
<rect x="516" y="632" width="1" height="19" fill="#C0C0C0" />
<rect x="524" y="632" width="1" height="17" fill="#C0C0C0" />
<rect x="532" y="632" width="1" height="17" fill="#C0C0C0" />
<rect x="540" y="632" width="1" height="17" fill="#C0C0C0" />
<rect x="548" y="632" width="1" height="17" fill="#C0C0C0" />
<rect x="556" y="632" width="1" height="18" fill="#C0C0C0" />
<rect x="564" y="632" width="1" height="18" fill="#C0C0C0" />
<rect x="572" y="632" width="1" height="12" fill="#C0C0C0" />
<rect x="580" y="632" width="1" height="11" fill="#C0C0C0" />
<rect x="588" y="632" width="1" height="8" fill="#C0C0C0" />
<rect x="596" y="632" width="1" height="7" fill="#C0C0C0" />
<rect x="604" y="632" width="1" height="5" fill="#C0C0C0" />
<rect x="612" y="632" width="1" height="2" fill="#C0C0C0" />
<rect x="620" y="625" width="1" height="8" fill="#C0C0C0" />
<rect x="628" y="621" width="1" height="12" fill="#C0C0C0" />
<rect x="636" y="616" width="1" height="17" fill="#C0C0C0" />
<rect x="644" y="612" width="1" height="21" fill="#C0C0C0" />
<rect x="652" y="607" width="1" height="26" fill="#C0C0C0" />
<rect x="660" y="603" width="1" height="30" fill="#C0C0C0" />
<rect x="668" y="601" width="1" height="32" fill="#C0C0C0" />
<rect x="676" y="600" width="1" height="33" fill="#C0C0C0" />
<rect x="684" y="603" width="1" height="30" fill="#C0C0C0" />
<rect x="692" y="607" width="1" height="26" fill="#C0C0C0" />
<rect x="700" y="610" width="1" height="23" fill="#C0C0C0" />
<rect x="708" y="610" width="1" height="23" fill="#C0C0C0" />
<rect x="716" y="612" width="1" height="21" fill="#C0C0C0" />
<rect x="724" y="614" width="1" height="19" fill="#C0C0C0" />
<rect x="732" y="619" width="1" height="14" fill="#C0C0C0" />
<rect x="740" y="624" width="1" height="9" fill="#C0C0C0" />
<rect x="748" y="629" width="1" height="4" fill="#C0C0C0" />
<rect x="756" y="629" width="1" height="4" fill="#C0C0C0" />
<rect x="764" y="628" width="1" height="5" fill="#C0C0C0" />
<rect x="772" y="631" width="1" height="2" fill="#C0C0C0" />
<rect x="780" y="632" width="1" height="1" fill="#C0C0C0" />
<rect x="788" y="632" width="1" height="4" fill="#C0C0C0" />
<rect x="796" y="632" width="1" height="6" fill="#C0C0C0" />
<rect x="804" y="632" width="1" height="9" fill="#C0C0C0" />
<rect x="812" y="632" width="1" height="9" fill="#C0C0C0" />
<rect x="820" y="632" width="1" height="7" fill="#C0C0C0" />
<rect x="828" y="632" width="1" height="4" fill="#C0C0C0" />
<rect x="836" y="632" width="1" height="4" fill="#C0C0C0" />
<rect x="844" y="632" width="1" height="2" fill="#C0C0C0" />
<rect x="852" y="632" width="1" height="1" fill="#C0C0C0" />
<rect x="860" y="631" width="1" height="2" fill="#C0C0C0" />
<rect x="868" y="628" width="1" height="5" fill="#C0C0C0" />
<rect x="876" y="625" width="1" height="8" fill="#C0C0C0" />
<rect x="884" y="623" width="1" height="10" fill="#C0C0C0" />
<rect x="892" y="621" width="1" height="12" fill="#C0C0C0" />
<rect x="900" y="622" width="1" height="11" fill="#C0C0C0" />
<rect x="908" y="622" width="1" height="11" fill="#C0C0C0" />
<rect x="916" y="622" width="1" height="11" fill="#C0C0C0" />
<rect x="924" y="623" width="1" height="10" fill="#C0C0C0" />
<rect x="932" y="623" width="1" height="10" fill="#C0C0C0" />
<rect x="940" y="623" width="1" height="10" fill="#C0C0C0" />
<rect x="948" y="622" width="1" height="11" fill="#C0C0C0" />
<rect x="956" y="618" width="1" height="15" fill="#C0C0C0" />
<rect x="964" y="616" width="1" height="17" fill="#C0C0C0" />
<rect x="972" y="615" width="1" height="18" fill="#C0C0C0" />
<rect x="980" y="613" width="1" height="20" fill="#C0C0C0" />
<rect x="988" y="611" width="1" height="22" fill="#C0C0C0" />
<rect x="996" y="608" width="1" height="25" fill="#C0C0C0" />
<rect x="1004" y="604" width="1" height="29" fill="#C0C0C0" />
<rect x="1012" y="601" width="1" height="32" fill="#C0C0C0" />
<rect x="1020" y="595" width="1" height="38" fill="#C0C0C0" />
<rect x="1028" y="592" width="1" height="41" fill="#C0C0C0" />
<rect x="1036" y="589" width="1" height="44" fill="#C0C0C0" />
<rect x="1044" y="588" width="1" height="45" fill="#C0C0C0" />
<rect x="1052" y="588" width="1" height="45" fill="#C0C0C0" />
<rect x="1060" y="587" width="1" height="46" fill="#C0C0C0" />
<rect x="1068" y="587" width="1" height="46" fill="#C0C0C0" />
<rect x="1076" y="589" width="1" height="44" fill="#C0C0C0" />
<rect x="1084" y="592" width="1" height="41" fill="#C0C0C0" />
<rect x="1092" y="593" width="1" height="40" fill="#C0C0C0" />
<rect x="1100" y="596" width="1" height="37" fill="#C0C0C0" />
<rect x="1108" y="598" width="1" height="35" fill="#C0C0C0" />
<rect x="1116" y="600" width="1" height="33" fill="#C0C0C0" />
<rect x="1124" y="601" width="1" height="32" fill="#C0C0C0" />
<rect x="1132" y="602" width="1" height="31" fill="#C0C0C0" />
<rect x="1140" y="603" width="1" height="30" fill="#C0C0C0" />
<rect x="1148" y="601" width="1" height="32" fill="#C0C0C0" />
<rect x="1156" y="603" width="1" height="30" fill="#C0C0C0" />
<rect x="1164" y="602" width="1" height="31" fill="#C0C0C0" />
<rect x="1172" y="605" width="1" height="28" fill="#C0C0C0" />
<rect x="1180" y="607" width="1" height="26" fill="#C0C0C0" />
<rect x="1188" y="610" width="1" height="23" fill="#C0C0C0" />
<rect x="1196" y="611" width="1" height="22" fill="#C0C0C0" />
<rect x="1204" y="610" width="1" height="23" fill="#C0C0C0" />
<rect x="1212" y="610" width="1" height="23" fill="#C0C0C0" />
<rect x="1220" y="606" width="1" height="27" fill="#C0C0C0" />
<rect x="1228" y="604" width="1" height="29" fill="#C0C0C0" />
<rect x="1236" y="602" width="1" height="31" fill="#C0C0C0" />
<rect x="1244" y="600" width="1" height="33" fill="#C0C0C0" />
<rect x="1252" y="600" width="1" height="33" fill="#C0C0C0" />
<rect x="1260" y="602" width="1" height="31" fill="#C0C0C0" />
<rect x="1268" y="604" width="1" height="29" fill="#C0C0C0" />
<rect x="1276" y="607" width="1" height="26" fill="#C0C0C0" />
<rect x="1284" y="611" width="1" height="22" fill="#C0C0C0" />
<rect x="1292" y="620" width="1" height="13" fill="#C0C0C0" />
<rect x="1300" y="626" width="1" height="7" fill="#C0C0C0" />
<rect x="1308" y="632" width="1" height="1" fill="#C0C0C0" />
<rect x="1316" y="632" width="1" height="9" fill="#C0C0C0" />
<rect x="1324" y="632" width="1" height="16" fill="#C0C0C0" />
<rect x="1332" y="632" width="1" height="19" fill="#C0C0C0" />
<rect x="1340" y="632" width="1" height="19" fill="#C0C0C0" />
<rect x="1348" y="632" width="1" height="19" fill="#C0C0C0" />
<rect x="1356" y="632" width="1" height="17" fill="#C0C0C0" />
<rect x="1364" y="632" width="1" height="17" fill="#C0C0C0" />
<rect x="1372" y="632" width="1" height="17" fill="#C0C0C0" />
<rect x="1380" y="632" width="1" height="19" fill="#C0C0C0" />
<rect x="1388" y="632" width="1" height="22" fill="#C0C0C0" />
<rect x="1396" y="632" width="1" height="25" fill="#C0C0C0" />
<rect x="1404" y="632" width="1" height="27" fill="#C0C0C0" />
<rect x="1412" y="632" width="1" height="27" fill="#C0C0C0" />
<rect x="1420" y="632" width="1" height="26" fill="#C0C0C0" />
<rect x="1428" y="632" width="1" height="25" fill="#C0C0C0" />
<rect x="1436" y="632" width="1" height="23" fill="#C0C0C0" />
<rect x="1444" y="632" width="1" height="21" fill="#C0C0C0" />
<rect x="1452" y="632" width="1" height="19" fill="#C0C0C0" />
<rect x="1460" y="632" width="1" height="16" fill="#C0C0C0" />
<rect x="1468" y="632" width="1" height="14" fill="#C0C0C0" />
<rect x="1476" y="632" width="1" height="12" fill="#C0C0C0" />
<rect x="1484" y="632" width="1" height="10" fill="#C0C0C0" />
<rect x="1492" y="632" width="1" height="8" fill="#C0C0C0" />
<rect x="1500" y="632" width="1" height="5" fill="#C0C0C0" />
<polyline points="3.0,642.7 13.0,644.0 25.5,644.5 40.5,643.5 58.0,641.0 75.5,641.5 88.0,644.0 100.5,650.2 113.0,662.7 125.5,679.0 138.0,695.2 150.5,710.2 163.0,720.2 173.0,723.5 183.0,721.5 195.5,711.5 208.0,699.0 220.5,684.0 238.0,666.5 255.5,655.2 275.5,646.5 295.5,636.5 315.5,627.7 330.5,624.0 350.5,623.5 360.5,624.7 375.5,627.2 388.0,629.0 413.0,628.2 437.0,627.2 457.0,627.2 472.0,629.5 487.0,632.0 499.5,636.0 514.5,640.2 529.5,644.0 544.5,646.0 557.0,649.0 567.0,649.5 584.5,649.0 597.0,646.0 609.5,643.5 619.5,641.0 634.5,634.0 647.0,628.5 659.5,621.5 672.0,615.2 684.5,610.2 697.0,607.0 709.5,606.0 719.5,606.0 734.5,607.7 749.5,614.0 764.5,617.7 779.5,623.2 792.0,628.5 804.5,632.0 819.5,634.7 834.5,636.5 859.5,637.0 868.5,636.0 883.5,632.0 901.0,627.7 918.5,624.5 938.5,622.2 956.0,622.0 968.5,620.2 981.0,619.0 996.0,616.0 1011.0,612.7 1026.0,607.7 1043.5,600.2 1056.0,596.0 1068.5,592.0 1083.5,590.0 1103.5,590.0 1118.5,592.0 1133.5,595.2 1143.5,597.7 1163.5,600.7 1183.5,603.5 1201.0,605.7 1218.5,607.0 1243.5,607.0 1258.5,605.2 1271.0,604.0 1286.0,604.0 1293.0,606.5 1303.0,608.5 1313.0,614.7 1328.0,622.7 1340.5,631.5 1355.5,641.0 1370.5,647.2 1383.0,650.2 1400.5,652.2 1415.5,654.0 1433.0,655.7 1450.5,655.7 1465.5,654.0 1480.5,649.5 1493.0,647.2 1500.5,643.5" fill="none" stroke="#FF0000" stroke-width="1" stroke-dasharray="3 2"/>
</g>
<line x1="1410" y1="659.5" x2="1486.4" y2="635.7" stroke="#FF0000" stroke-width="3.2"/>
<polygon points="1495,633 1485.7,640.1 1483.3,632.5" fill="#FF0000"/>
<g shape-rendering="crispEdges">
<line x1="0" y1="785.5" x2="1689" y2="785.5" stroke="#C0C0C0" stroke-width="1" stroke-dasharray="3 3"/>
<line x1="0" y1="836.5" x2="1689" y2="836.5" stroke="#C0C0C0" stroke-width="1" stroke-dasharray="3 3"/>
<line x1="0" y1="897.5" x2="1689" y2="897.5" stroke="#C0C0C0" stroke-width="1" stroke-dasharray="3 3"/>
<polyline points="0.5,857.7 4.5,853.5 12.5,845.2 20.5,835.3 28.5,827.0 36.5,819.5 44.5,822.0 52.5,843.0 60.5,850.5 68.5,868.0 76.5,879.7 84.5,870.2 92.5,876.0 100.5,880.5 108.5,892.7 116.5,896.0 124.5,888.0 132.5,884.7 140.5,884.7 148.5,868.5 156.5,864.2 164.5,843.5 172.5,829.7 180.5,831.0 188.5,835.2 196.5,834.0 204.5,835.2 212.5,834.0 220.5,841.0 228.5,844.0 236.5,843.0 244.5,836.0 252.5,832.7 260.5,829.0 268.5,829.0 276.5,824.7 284.5,818.0 292.5,826.7 300.5,829.7 308.5,829.7 316.5,829.7 324.5,833.5 332.5,846.0 340.5,844.0 348.5,841.0 356.5,841.0 364.5,839.7 372.5,834.0 380.5,832.7 388.5,828.5 396.5,818.0 404.5,829.7 412.5,833.0 420.5,834.7 428.5,834.7 436.5,848.0 444.5,842.2 452.5,838.5 460.5,836.7 468.5,846.5 476.5,854.7 484.5,856.0 492.5,856.0 500.5,866.7 508.5,869.0 516.5,851.5 524.5,844.7 532.5,846.7 540.5,849.0 548.5,854.0 556.5,851.7 564.5,849.0 572.5,831.7 580.5,839.7 588.5,834.0 596.5,832.2 604.5,830.5 612.5,816.0 620.5,807.7 628.5,809.0 636.5,806.7 644.5,802.2 652.5,799.0 660.5,797.7 668.5,801.5 676.5,801.7 684.5,824.7 692.5,836.0 700.5,833.5 708.5,821.0 716.5,827.7 724.5,831.7 732.5,844.7 740.5,851.7 748.5,853.0 756.5,834.7 764.5,832.7 772.5,844.0 780.5,842.7 788.5,849.7 796.5,851.0 804.5,853.0 812.5,844.0 820.5,834.7 828.5,834.7 836.5,834.0 844.5,834.0 852.5,831.0 860.5,826.5 868.5,817.2 876.5,819.0 884.5,815.5 892.5,816.5 900.5,829.7 908.5,828.0 916.5,824.7 924.5,829.7 932.5,829.0 940.5,829.0 948.5,816.0 956.5,807.7 964.5,809.0 972.5,807.7 980.5,801.7 988.5,800.5 996.5,793.0 1004.5,789.7 1012.5,786.0 1020.5,778.5 1028.5,781.5 1036.5,783.0 1044.5,787.7 1052.5,787.7 1060.5,784.7 1068.5,783.5 1076.5,806.0 1084.5,806.0 1092.5,802.7 1100.5,808.5 1108.5,811.0 1116.5,808.0 1124.5,804.7 1132.5,802.7 1140.5,802.7 1148.5,787.2 1156.5,819.0 1164.5,808.5 1172.5,828.0 1180.5,828.0 1188.5,831.0 1196.5,822.2 1204.5,814.7 1212.5,818.0 1220.5,806.0 1228.5,804.7 1236.5,804.7 1244.5,801.5 1252.5,811.0 1260.5,824.0 1268.5,820.5 1276.5,827.2 1284.5,838.0 1292.5,857.7 1300.5,854.0 1308.5,866.7 1316.5,868.0 1324.5,866.0 1332.5,861.0 1340.5,856.0 1348.5,846.0 1356.5,844.7 1364.5,849.7 1372.5,849.0 1380.5,858.0 1388.5,864.0 1396.5,866.7 1404.5,861.0 1412.5,863.0 1420.5,857.7 1428.5,843.0 1436.5,844.0 1444.5,837.2 1452.5,840.2 1460.5,834.7 1468.5,836.0 1476.5,828.0 1484.5,841.7 1492.5,838.0 1500.5,834.7" fill="none" stroke="#1E90FF" stroke-width="1" />
</g>
<line x1="1389.5" y1="864" x2="1482.0" y2="832.4" stroke="#FF0000" stroke-width="3.2"/>
<polygon points="1490.5,829.5 1481.4,836.8 1478.8,829.3" fill="#FF0000"/>
<text x="3.8" y="936" font-size="9.2" fill="#000" text-anchor="start" >Mar 2020</text>
<rect x="60" y="924" width="1" height="3" fill="#000" />
<text x="59.5" y="936" font-size="9.2" fill="#000" text-anchor="start" >11 Mar 2020</text>
<rect x="124" y="924" width="1" height="3" fill="#000" />
<text x="123.5" y="936" font-size="9.2" fill="#000" text-anchor="start" >20 Mar 2020</text>
<rect x="188" y="924" width="1" height="3" fill="#000" />
<text x="187.5" y="936" font-size="9.2" fill="#000" text-anchor="start" >30 Mar 2020</text>
<rect x="252" y="924" width="1" height="3" fill="#000" />
<text x="251.5" y="936" font-size="9.2" fill="#000" text-anchor="start" >8 Apr 2020</text>
<rect x="316" y="924" width="1" height="3" fill="#000" />
<text x="315.5" y="936" font-size="9.2" fill="#000" text-anchor="start" >19 Apr 2020</text>
<rect x="380" y="924" width="1" height="3" fill="#000" />
<text x="379.5" y="936" font-size="9.2" fill="#000" text-anchor="start" >28 Apr 2020</text>
<rect x="444" y="924" width="1" height="3" fill="#000" />
<text x="443.5" y="936" font-size="9.2" fill="#000" text-anchor="start" >7 May 2020</text>
<rect x="508" y="924" width="1" height="3" fill="#000" />
<text x="507.5" y="936" font-size="9.2" fill="#000" text-anchor="start" >17 May 2020</text>
<rect x="572" y="924" width="1" height="3" fill="#000" />
<text x="571.5" y="936" font-size="9.2" fill="#000" text-anchor="start" >26 May 2020</text>
<rect x="636" y="924" width="1" height="3" fill="#000" />
<text x="635.5" y="936" font-size="9.2" fill="#000" text-anchor="start" >4 Jun 2020</text>
<rect x="700" y="924" width="1" height="3" fill="#000" />
<text x="699.5" y="936" font-size="9.2" fill="#000" text-anchor="start" >14 Jun 2020</text>
<rect x="764" y="924" width="1" height="3" fill="#000" />
<text x="763.5" y="936" font-size="9.2" fill="#000" text-anchor="start" >23 Jun 2020</text>
<rect x="828" y="924" width="1" height="3" fill="#000" />
<text x="827.5" y="936" font-size="9.2" fill="#000" text-anchor="start" >2 Jul 2020</text>
<rect x="892" y="924" width="1" height="3" fill="#000" />
<text x="891.5" y="936" font-size="9.2" fill="#000" text-anchor="start" >12 Jul 2020</text>
<rect x="956" y="924" width="1" height="3" fill="#000" />
<text x="955.5" y="936" font-size="9.2" fill="#000" text-anchor="start" >21 Jul 2020</text>
<rect x="1020" y="924" width="1" height="3" fill="#000" />
<text x="1019.5" y="936" font-size="9.2" fill="#000" text-anchor="start" >30 Jul 2020</text>
<rect x="1084" y="924" width="1" height="3" fill="#000" />
<text x="1083.5" y="936" font-size="9.2" fill="#000" text-anchor="start" >9 Aug 2020</text>
<rect x="1148" y="924" width="1" height="3" fill="#000" />
<text x="1147.5" y="936" font-size="9.2" fill="#000" text-anchor="start" >18 Aug 2020</text>
<rect x="1212" y="924" width="1" height="3" fill="#000" />
<text x="1211.5" y="936" font-size="9.2" fill="#000" text-anchor="start" >27 Aug 2020</text>
<rect x="1276" y="924" width="1" height="3" fill="#000" />
<text x="1275.5" y="936" font-size="9.2" fill="#000" text-anchor="start" >6 Sep 2020</text>
<rect x="1340" y="924" width="1" height="3" fill="#000" />
<text x="1339.5" y="936" font-size="9.2" fill="#000" text-anchor="start" >15 Sep 2020</text>
<rect x="1404" y="924" width="1" height="3" fill="#000" />
<text x="1403.5" y="936" font-size="9.2" fill="#000" text-anchor="start" >24 Sep 2020</text>
<rect x="1468" y="924" width="1" height="3" fill="#000" />
<text x="1467.5" y="936" font-size="9.2" fill="#000" text-anchor="start" >4 Oct 2020</text>
<text x="10.7" y="34" font-size="9.5" fill="#000" text-anchor="start" textLength="67.3" lengthAdjust="spacing">GBPUSD-,Daily</text>
<text x="84.5" y="34" font-size="9.5" fill="#000" text-anchor="start" textLength="140.2" lengthAdjust="spacing">1.29153 1.29693 1.28904 1.29383</text>
<polygon points="0,33 7,33 3.5,29" fill="#000"/>
<text x="1" y="590" font-size="9.3" fill="#000" text-anchor="start" >MACD(12,26,9) -0.001566 -0.003980</text>
<text x="0.3" y="762" font-size="9.2" fill="#000" text-anchor="start" >RSI(14) 51.4105</text>
<polygon points="1514,23 1523,23 1518.5,27.5" fill="#B0B0B0"/>

<g>
<rect x="50" y="42" width="116" height="24" fill="#fff"/>
<rect x="0" y="42" width="50" height="24" fill="url(#gBtn)"/>
<rect x="166" y="42" width="52" height="24" fill="url(#gBtn)"/>
<rect x="0" y="66" width="108" height="40" fill="url(#gPrice)"/>
<rect x="110" y="66" width="108" height="40" fill="url(#gPrice)"/>
<rect x="3" y="66" width="44" height="1" fill="#9090F8"/>
<rect x="170" y="66" width="44" height="1" fill="#9090F8"/>
<rect x="53.5" y="42.500" width="110" height="21" fill="#fff" stroke="#A8A8A8"/>
<rect x="54.5" y="43.5" width="19" height="19" fill="url(#gSpin)" stroke="#C8C8C8"/>
<rect x="143.5" y="43.5" width="19" height="19" fill="url(#gSpin)" stroke="#C8C8C8"/>
<polygon points="61,50.500 67,50.500 64,54" fill="#4858B0"/>
<polygon points="150,54 156,54 153,50.500" fill="#4858B0"/>
<text x="11.7" y="57.3" font-size="11" fill="#fff" textLength="24.8" lengthAdjust="spacingAndGlyphs">SELL</text>
<text x="191" y="57.5" font-size="11.5" fill="#fff" text-anchor="middle">BUY</text>
<text x="138.500" y="57.500" font-size="12" fill="#000" text-anchor="end">1.00</text>
<text x="20" y="97" font-size="11.5" font-weight="bold" fill="#fff">1.29</text>
<text x="48" y="97" font-size="32.4" fill="#fff" textLength="33" lengthAdjust="spacingAndGlyphs">38</text>
<text x="86.500" y="81" font-size="10.5" font-weight="bold" fill="#fff">3</text>
<text x="129.500" y="97" font-size="11.5" font-weight="bold" fill="#fff">1.29</text>
<text x="157" y="97" font-size="32.4" fill="#fff" textLength="34" lengthAdjust="spacingAndGlyphs">41</text>
<text x="197.500" y="81" font-size="10.5" font-weight="bold" fill="#fff">7</text>
</g>

<g id="toolbar">
<rect x="0" y="0" width="1736" height="18" fill="#F0F0F0"/>
<rect x="0" y="18" width="1735" height="1" fill="#B4B4B4"/>
<rect x="0" y="19" width="1735" height="1" fill="#7A7A7A"/>
<rect x="0" y="17" width="1735" height="1" fill="#E2E2E2"/>
<rect x="0" y="20" width="1736" height="2" fill="#FCFCFC"/>
<rect x="-3.5" y="-3.5" width="16" height="16" fill="#fff" stroke="#4A86D0" stroke-width="1.2"/>
<rect x="2" y="0.8999999999999999" width="1.2" height="1.2" fill="#e00"/><rect x="4" y="1.4" width="7" height="0.6" fill="#A8C8F0"/>
<rect x="2" y="2.9" width="1.2" height="1.2" fill="#333"/><rect x="4" y="3.4" width="7" height="0.6" fill="#A8C8F0"/>
<rect x="2" y="4.9" width="1.2" height="1.2" fill="#333"/><rect x="4" y="5.4" width="7" height="0.6" fill="#A8C8F0"/>
<rect x="2" y="6.9" width="1.2" height="1.2" fill="#e00"/><rect x="4" y="7.4" width="7" height="0.6" fill="#A8C8F0"/>
<rect x="25.500" y="-3" width="12" height="14" fill="#fff" stroke="#B0A898" stroke-width="1"/>
<rect x="31" y="0" width="3" height="8" fill="#A8B0B8"/>
<line x1="37" y1="10.500" x2="42" y2="15" stroke="#C8960C" stroke-width="2.2"/>
<circle cx="33.200" cy="6.900" r="4.800" fill="#CFE0F4" fill-opacity="0.8" stroke="#6A9AE0" stroke-width="1.2"/>
<rect x="50" y="0" width="1" height="16" fill="#A0A0A0"/>
<path d="M60.500,-3 L68,-3 L71.500,0.500 L71.500,11.500 L60.500,11.500 Z" fill="#fff" stroke="#909090"/>
<rect x="62" y="1" width="3" height="2" fill="#909090"/><rect x="62" y="5" width="6" height="1" fill="#909090"/><rect x="62" y="7.500" width="6" height="1" fill="#909090"/>
<path d="M68,4.500 h4 v3.800 h4 v4 h-4 v3.700 h-4 v-3.700 h-4 v-4 h4 Z" fill="#22C422" stroke="#0A8A0A" stroke-width="0.8"/>
<text x="78.500" y="8.900" font-size="12.200" fill="#000" stroke="#000" stroke-width="0.2">新订单</text>
<polygon points="126.900,7.300 133.700,0 135.700,0 143,6.400 135.700,13.700" fill="#DDA820" stroke="#A87808" stroke-width="0.700"/>
<polygon points="128.500,7.200 134.300,0.600 140.500,6 134.800,11.800" fill="#F2D058"/>
<polygon points="143,6.400 135.700,13.700 134.600,12.600 141.900,5.400" fill="#8A5A08"/>
<line x1="141.200" y1="6.600" x2="135.200" y2="12.600" stroke="#F4E8C0" stroke-width="0.800"/>
<rect x="157.500" y="-2" width="11" height="9" fill="#3C8CE8" stroke="#1E60C0" stroke-width="0.8"/>
<rect x="160" y="1" width="6" height="1" fill="#D8E8FF"/><rect x="160" y="3.500" width="6" height="1" fill="#D8E8FF"/>
<path d="M157.500,13 a3,3 0 0 1 0.500,-6 a4,4 0 0 1 7,-0.500 a3,3 0 0 1 5,2 a2.500,2.500 0 0 1 -1,4.500 Z" fill="#E8EEF8" stroke="#6A88C0" stroke-width="0.9"/>
<circle cx="191" cy="5.900" r="1.800" fill="#3060D0"/>
<path d="M187.800,2.500 a4.500,4.500 0 0 0 0,7" fill="none" stroke="#5A8AE0" stroke-width="1.2"/>
<path d="M185.500,0.500 a7.500,7.500 0 0 0 0,11" fill="none" stroke="#8AB0F0" stroke-width="1.2"/>
<path d="M194.200,2.500 a4.500,4.500 0 0 1 0,7" fill="none" stroke="#4CB84C" stroke-width="1.2"/>
<path d="M196.500,0 a7.500,7.500 0 0 1 -4,12.500" fill="none" stroke="#7AD07A" stroke-width="1.600"/>
<rect x="190.400" y="6" width="1.400" height="7.500" fill="#2CA82C"/>
<polygon points="210.500,4 224.500,4 219.500,13.500 216,13.500" fill="#F8D030" stroke="#D0A010" stroke-width="0.7"/>
<ellipse cx="218" cy="2.500" rx="8" ry="2.800" fill="#48A0E0"/><rect x="214" y="-3" width="8" height="5" fill="#3890D8"/>
<circle cx="222.300" cy="9.800" r="4" fill="#E02020"/><rect x="220.600" y="8.100" width="3.400" height="3.400" fill="#fff"/>
<text x="231.200" y="9.200" font-size="11.900" fill="#000" stroke="#000" stroke-width="0.2">自动交易</text>
<rect x="286" y="0" width="1" height="18" fill="#909090"/>
<rect x="290" y="0" width="3" height="1" fill="#B8B8B8"/>
<rect x="290" y="2" width="3" height="1" fill="#B8B8B8"/>
<rect x="290" y="4" width="3" height="1" fill="#B8B8B8"/>
<rect x="290" y="6" width="3" height="1" fill="#B8B8B8"/>
<rect x="290" y="8" width="3" height="1" fill="#B8B8B8"/>
<rect x="290" y="10" width="3" height="1" fill="#B8B8B8"/>
<rect x="290" y="12" width="3" height="1" fill="#B8B8B8"/>
<rect x="290" y="14" width="3" height="1" fill="#B8B8B8"/>
<rect x="304" y="0" width="1" height="14" fill="#606060"/><rect x="302" y="11" width="13" height="1" fill="#606060"/>
<polygon points="314,9.500 317,11.500 314,13.500" fill="#606060"/><polygon points="302.5,2.500 304.5,-0.500 306.5,2.500" fill="#606060"/>
<rect x="310.500" y="2" width="1.200" height="8" fill="#0A900A"/><rect x="311" y="2" width="2.500" height="1.200" fill="#0A900A"/><rect x="308.500" y="8.500" width="2.500" height="1.200" fill="#0A900A"/>
<rect x="324" y="0" width="1" height="16" fill="#A0A0A0"/>
<rect x="325" y="0" width="24" height="16" fill="#F9F9F9"/>
<rect x="332" y="0" width="1" height="14" fill="#606060"/><rect x="330" y="11" width="13" height="1" fill="#606060"/>
<polygon points="342,9.500 345,11.500 342,13.500" fill="#606060"/><polygon points="330.5,2.500 332.5,-0.500 334.5,2.500" fill="#606060"/>
<rect x="338" y="7" width="1" height="3" fill="#0A800A"/><rect x="336.500" y="0.500" width="4" height="7" fill="#30D030" stroke="#0A800A" stroke-width="0.800"/>
<rect x="360" y="0" width="1" height="14" fill="#606060"/><rect x="358" y="11" width="13" height="1" fill="#606060"/>
<polygon points="370,9.500 373,11.500 370,13.500" fill="#606060"/><polygon points="358.5,2.500 360.5,-0.500 362.5,2.500" fill="#606060"/>
<path d="M359,8.800 Q363,2.500 365.500,3.400 T370.700,7.300" fill="none" stroke="#2CA02C" stroke-width="1.200"/>
<rect x="381" y="0" width="1" height="16" fill="#A0A0A0"/>
<line x1="400" y1="8.300" x2="405" y2="12.500" stroke="#D4A820" stroke-width="2.400"/>
<circle cx="396" cy="3.900" r="5.200" fill="#D4E6F8" stroke="#5A9AE0" stroke-width="1.200"/>
<rect x="393" y="3.300" width="6" height="1.400" fill="#3A78C8"/>
<rect x="395.3" y="1" width="1.400" height="6" fill="#3A78C8"/>
<line x1="428" y1="8.300" x2="433" y2="12.500" stroke="#D4A820" stroke-width="2.400"/>
<circle cx="424" cy="3.900" r="5.200" fill="#D4E6F8" stroke="#5A9AE0" stroke-width="1.200"/>
<rect x="421" y="3.300" width="6" height="1.400" fill="#3A78C8"/>
<rect x="446" y="-1" width="7.800" height="7" fill="#58B020"/><rect x="447.5" y="1.5" width="5" height="2.800" fill="#E8F0FF"/>
<rect x="454.5" y="-1" width="7.800" height="7" fill="#2868E0"/><rect x="456.0" y="1.5" width="5" height="2.800" fill="#E8F0FF"/>
<rect x="446" y="6.5" width="7.800" height="7" fill="#2868E0"/><rect x="447.5" y="9.0" width="5" height="2.800" fill="#E8F0FF"/>
<rect x="454.5" y="6.5" width="7.800" height="7" fill="#58B020"/><rect x="456.0" y="9.0" width="5" height="2.800" fill="#E8F0FF"/>
<rect x="471" y="0" width="1" height="16" fill="#A0A0A0"/>
<rect x="476" y="0" width="1" height="16" fill="#A0A0A0"/>
<rect x="477" y="0" width="24" height="16" fill="#F9F9F9"/>
<rect x="484" y="0" width="1" height="14" fill="#606060"/><rect x="482" y="11" width="13" height="1" fill="#606060"/>
<polygon points="494,9.500 497,11.500 494,13.500" fill="#606060"/><polygon points="482.5,2.500 484.5,-0.500 486.5,2.500" fill="#606060"/>
<polygon points="489,2.900 493,5.700 489,8.600" fill="#C8F0C8" stroke="#18A018" stroke-width="1"/>
<rect x="504" y="0" width="1" height="16" fill="#A0A0A0"/>
<rect x="505" y="0" width="24" height="16" fill="#F9F9F9"/>
<rect x="512" y="0" width="1" height="14" fill="#606060"/><rect x="510" y="11" width="13" height="1" fill="#606060"/>
<polygon points="522,9.500 525,11.500 522,13.500" fill="#606060"/><polygon points="510.5,2.500 512.5,-0.500 514.5,2.500" fill="#606060"/>
<rect x="518" y="0" width="1" height="10" fill="#2070C0"/><polygon points="519.500,5.700 522.500,3 522.500,8.400" fill="#E05010"/><rect x="522" y="5.200" width="2.500" height="1" fill="#E05010"/>
<rect x="533" y="0" width="1" height="16" fill="#A0A0A0"/>
<path d="M543.500,-3 L551,-3 L554.500,0.500 L554.500,11 L543.500,11 Z" fill="#fff" stroke="#909090"/>
<rect x="546" y="1" width="3" height="5" fill="none" stroke="#707070" stroke-width="0.800"/>
<path d="M551,4.500 h4 v3.800 h4 v4 h-4 v3.700 h-4 v-3.700 h-4 v-4 h4 Z" fill="#22C422" stroke="#0A8A0A" stroke-width="0.800"/>
<polygon points="565,5 571,5 568,8" fill="#000"/>
<circle cx="588.900" cy="5.900" r="7" fill="#fff" stroke="#1A64C8" stroke-width="2.200"/>
<path d="M589,2 V6.500 H592" fill="none" stroke="#404040" stroke-width="1"/>
<polygon points="604,5 610,5 607,8" fill="#000"/>
<rect x="620.500" y="-2" width="15" height="14.500" rx="1" fill="#fff" stroke="#2A6FD0" stroke-width="1.200"/>
<rect x="621" y="-2" width="14" height="3" fill="#5A9AE8"/><rect x="621" y="6.500" width="14" height="0.800" fill="#2A6FD0"/>
<polyline points="622.500,5 625,4 627,3 629,4 631,3.500 634,2.500" fill="none" stroke="#B02010" stroke-width="1.200"/>
<polyline points="622.500,10.500 625,9.500 627,10.500 629,9.500 631,8.500 634,10.500" fill="none" stroke="#10A010" stroke-width="1.200"/>
<polygon points="643,5 649,5 646,8" fill="#000"/>
<rect x="654" y="0" width="1" height="18" fill="#909090"/>
<rect x="658" y="0" width="3" height="1" fill="#B8B8B8"/>
<rect x="658" y="2" width="3" height="1" fill="#B8B8B8"/>
<rect x="658" y="4" width="3" height="1" fill="#B8B8B8"/>
<rect x="658" y="6" width="3" height="1" fill="#B8B8B8"/>
<rect x="658" y="8" width="3" height="1" fill="#B8B8B8"/>
<rect x="658" y="10" width="3" height="1" fill="#B8B8B8"/>
<rect x="658" y="12" width="3" height="1" fill="#B8B8B8"/>
<rect x="658" y="14" width="3" height="1" fill="#B8B8B8"/>
<rect x="664" y="0" width="1" height="16" fill="#A0A0A0"/>
<rect x="665" y="0" width="24" height="16" fill="#F9F9F9"/>
<polygon points="672.500,-1 679.800,6.900 676.400,7.300 678.800,12.200 676.900,12.900 674.600,8.300 672.200,10.300" fill="#505050"/>
<rect x="704" y="0" width="1" height="5.500" fill="#606060"/><rect x="704" y="7.500" width="1" height="6.500" fill="#606060"/><rect x="697" y="6" width="6.500" height="1" fill="#606060"/><rect x="705.500" y="6" width="6.500" height="1" fill="#606060"/>
<rect x="721" y="0" width="1" height="16" fill="#A0A0A0"/>
<rect x="738" y="0" width="1" height="13" fill="#606060"/>
<rect x="761" y="6" width="12" height="1" fill="#606060"/>
<line x1="789" y1="12.700" x2="801" y2="1" stroke="#606060" stroke-width="1"/>
<line x1="815" y1="12" x2="823" y2="0" stroke="#606060" stroke-width="0.900"/>
<line x1="818.5" y1="12" x2="826.5" y2="0" stroke="#606060" stroke-width="0.900"/>
<line x1="822" y1="12" x2="830" y2="0" stroke="#606060" stroke-width="0.900"/>
<line x1="815" y1="7" x2="829" y2="2" stroke="#606060" stroke-width="0.800"/><line x1="816" y1="10.500" x2="828" y2="6" stroke="#606060" stroke-width="0.800"/>
<text x="825.500" y="14.800" font-size="6.500" font-weight="bold" fill="#404040">E</text>
<line x1="844" y1="2.5" x2="857" y2="2.5" stroke="#606060" stroke-width="1" stroke-dasharray="1 1"/>
<line x1="844" y1="6.5" x2="857" y2="6.5" stroke="#606060" stroke-width="1" stroke-dasharray="1 1"/>
<line x1="844" y1="11.0" x2="857" y2="11.0" stroke="#606060" stroke-width="1" stroke-dasharray="1 1"/>
<text x="853.500" y="14.800" font-size="6.500" font-weight="bold" fill="#404040">F</text>
<text x="874.300" y="11" font-size="12.500" fill="#606060" stroke="#606060" stroke-width="0.300">A</text>
<rect x="901.500" y="-1.500" width="11" height="14" fill="none" stroke="#606060" stroke-width="1" stroke-dasharray="1 1" shape-rendering="crispEdges"/>
<text x="907" y="11" font-size="11.500" fill="#606060" text-anchor="middle" stroke="#606060" stroke-width="0.300">T</text>
<polygon points="929,1.500 931.500,-1 934,1.500 931.500,4" fill="#606060"/><polygon points="936.500,10 939.500,7.500 942,10 939.500,12.500" fill="#606060"/>
<polyline points="930,6 932.500,8.500 937,4" fill="none" stroke="#606060" stroke-width="1.300"/>
<polygon points="948.5,5 954.5,5 951.5,8" fill="#000"/>
<rect x="960" y="0" width="1" height="18" fill="#909090"/>
<rect x="964" y="0" width="3" height="1" fill="#B8B8B8"/>
<rect x="964" y="2" width="3" height="1" fill="#B8B8B8"/>
<rect x="964" y="4" width="3" height="1" fill="#B8B8B8"/>
<rect x="964" y="6" width="3" height="1" fill="#B8B8B8"/>
<rect x="964" y="8" width="3" height="1" fill="#B8B8B8"/>
<rect x="964" y="10" width="3" height="1" fill="#B8B8B8"/>
<rect x="964" y="12" width="3" height="1" fill="#B8B8B8"/>
<rect x="964" y="14" width="3" height="1" fill="#B8B8B8"/>
<text x="982" y="10" font-size="9.900" fill="#505050" text-anchor="middle">M1</text>
<text x="1009.5" y="10" font-size="9.900" fill="#505050" text-anchor="middle">M5</text>
<text x="1038.5" y="10" font-size="9.900" fill="#505050" text-anchor="middle">M15</text>
<text x="1066.3" y="10" font-size="9.900" fill="#505050" text-anchor="middle">M30</text>
<text x="1094" y="10" font-size="9.900" fill="#505050" text-anchor="middle">H1</text>
<text x="1121.5" y="10" font-size="9.900" fill="#505050" text-anchor="middle">H4</text>
<rect x="1138" y="0" width="1" height="16" fill="#A0A0A0"/>
<rect x="1139" y="0" width="25" height="16" fill="#F9F9F9"/>
<text x="1150.5" y="10" font-size="9.900" fill="#505050" text-anchor="middle">D1</text>
<text x="1179" y="10" font-size="9.900" fill="#505050" text-anchor="middle">W1</text>
<text x="1206" y="10" font-size="9.900" fill="#505050" text-anchor="middle">MN</text>
<rect x="1222" y="0" width="1" height="16" fill="#A0A0A0"/>
<line x1="1688.800" y1="5.600" x2="1684.200" y2="10.800" stroke="#2B5FD9" stroke-width="2.600"/>
<circle cx="1691.700" cy="2.600" r="3.800" fill="#F4F8FF" stroke="#2B5FD9" stroke-width="1.300"/>
<ellipse cx="1724.500" cy="3" rx="6.300" ry="4.800" fill="#F2F2F6" stroke="#A0A0A0" stroke-width="0.900"/><polygon points="1726,7.500 1728,10 1728.500,7" fill="#909090"/>
<ellipse cx="1715.300" cy="6.700" rx="4.900" ry="3.600" fill="#ECECF2" stroke="#909090" stroke-width="0.900"/><polygon points="1712,9.800 1712.500,12.500 1714.500,10" fill="#909090"/>
</g>
</svg>
</body></html>
